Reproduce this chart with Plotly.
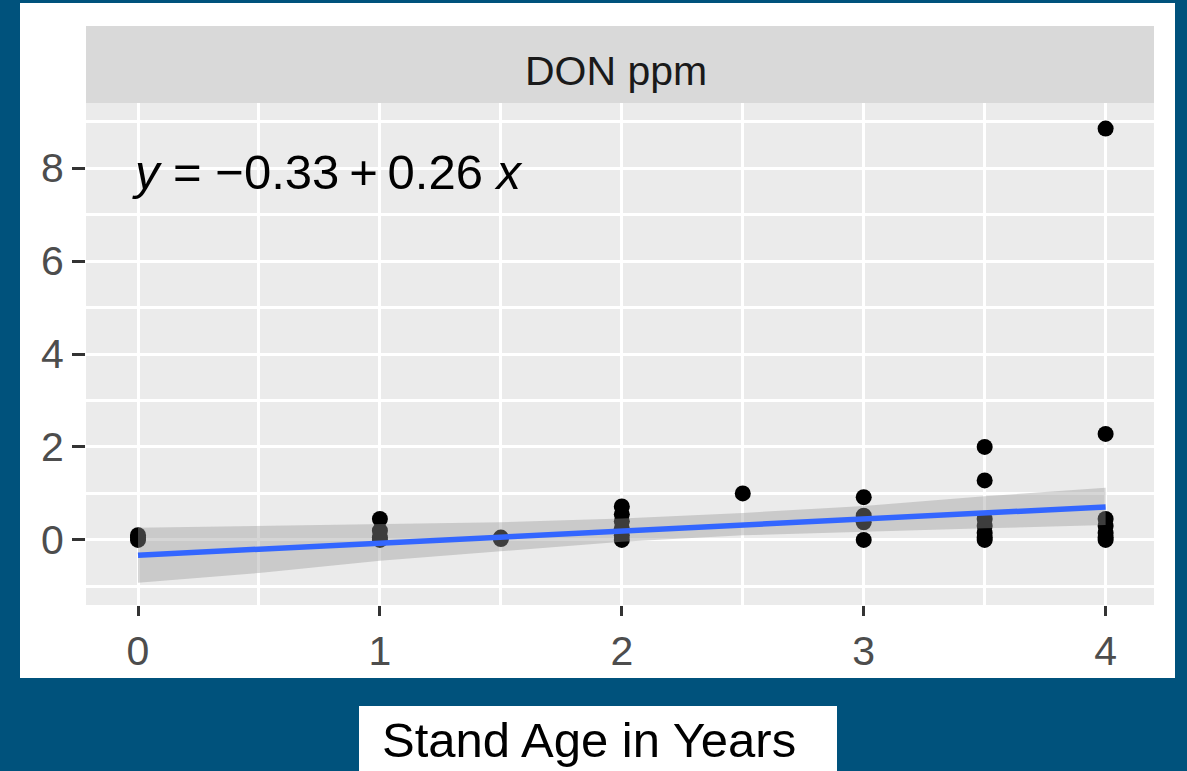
import plotly.graph_objects as go

# ---- data ----
x_groups = [0, 1, 1.5, 2, 2.5, 3, 3.5, 4]
y_groups = [
    [0.0, 0.05, 0.1],
    [0.45, 0.2, 0.05, 0.0],
    [0.02, 0.05],
    [0.72, 0.55, 0.4, 0.25, 0.1, 0.0],
    [1.0],
    [0.92, 0.52, 0.38, 0.0],
    [2.0, 1.28, 0.45, 0.3, 0.15, 0.05, 0.0],
    [8.85, 2.28, 0.45, 0.3, 0.15, 0.05, 0.0],
]
fit_x = [0, 4]
fit_y = [-0.33, 0.71]
band_x = [0, 0.5, 1, 1.5, 2, 2.5, 3, 3.5, 4]
band_upper = [0.26, 0.30, 0.33, 0.38, 0.46, 0.58, 0.73, 0.94, 1.12]
band_lower = [-0.92, -0.71, -0.45, -0.24, -0.04, 0.10, 0.18, 0.25, 0.32]
x_ticks = [0, 1, 2, 3, 4]
y_ticks = [0, 2, 4, 6, 8]
strip_label = "DON ppm"
x_title = "Stand Age in Years"
equation = "<i>y</i> = \u22120.33\u2009+\u20090.26 <i>x</i>"

pts_x, pts_y = [], []
for xv, ys in zip(x_groups, y_groups):
    for yv in ys:
        pts_x.append(xv)
        pts_y.append(yv)

FONT = "Liberation Sans, Arial, sans-serif"
BLUE = "#00527C"
W, H = 1187, 771
L, R, T, B = 86, 1154, 103, 605
pw, ph = R - L, B - T


def px(xp):
    return (xp - L) / pw


def py(yp):
    return (B - yp) / ph


fig = go.Figure()
fig.add_trace(go.Scatter(x=pts_x, y=pts_y, mode="markers",
                         marker=dict(color="black", size=16, line=dict(width=0)),
                         showlegend=False, hoverinfo="skip"))
fig.add_trace(go.Scatter(x=band_x + band_x[::-1], y=band_upper + band_lower[::-1],
                         mode="lines", fill="toself", fillcolor="rgba(153,153,153,0.4)",
                         line=dict(width=0), showlegend=False, hoverinfo="skip"))
fig.add_trace(go.Scatter(x=fit_x, y=fit_y, mode="lines",
                         line=dict(color="#3366FF", width=5.5),
                         showlegend=False, hoverinfo="skip"))

shapes = [
    dict(type="rect", xref="paper", yref="paper", x0=px(20), x1=px(1175), y0=py(678), y1=py(3),
         fillcolor="white", line=dict(width=0), layer="below"),
    dict(type="rect", xref="paper", yref="paper", x0=0, x1=1, y0=0, y1=1,
         fillcolor="#EBEBEB", line=dict(width=0), layer="below"),
    dict(type="rect", xref="paper", yref="paper", x0=0, x1=1, y0=1, y1=py(26),
         fillcolor="#D9D9D9", line=dict(width=0), layer="below"),
    dict(type="rect", xref="paper", yref="paper", x0=px(359), x1=px(837), y0=py(790), y1=py(706),
         fillcolor="white", line=dict(width=0), layer="below"),
]

annotations = [
    dict(text=strip_label, xref="paper", yref="paper", x=px(616), y=py(71), xanchor="center",
         yanchor="middle", showarrow=False, font=dict(family=FONT, size=41, color="#1A1A1A")),
    dict(text=x_title, xref="paper", yref="paper", x=px(589), y=py(740), xanchor="center",
         yanchor="middle", showarrow=False, font=dict(family=FONT, size=49, color="black")),
    dict(text=equation, xref="paper", yref="paper", x=px(130), y=py(172), xanchor="left",
         yanchor="middle", showarrow=False, font=dict(family=FONT, size=49, color="black")),
]

fig.update_layout(
    width=W, height=H,
    margin=dict(l=L, r=W - R, t=T, b=H - B, pad=0),
    paper_bgcolor=BLUE, plot_bgcolor="rgba(0,0,0,0)",
    shapes=shapes, annotations=annotations, showlegend=False,
    font=dict(family=FONT),
)
fig.update_xaxes(range=[-0.215, 4.2], tickvals=x_ticks, ticktext=[str(v) for v in x_ticks],
                 showgrid=True, gridcolor="white", gridwidth=3, zeroline=False,
                 minor=dict(dtick=0.5, tick0=0, showgrid=True, gridcolor="white", gridwidth=2.5),
                 ticks="outside", ticklen=10, tickwidth=2.5, tickcolor="#333333",
                 tickfont=dict(family=FONT, size=41, color="#4D4D4D"),
                 showline=False, fixedrange=True)
fig.update_yaxes(range=[-1.40, 9.40], tickvals=y_ticks, ticktext=[str(v) for v in y_ticks],
                 showgrid=True, gridcolor="white", gridwidth=3, zeroline=False,
                 minor=dict(dtick=1, tick0=0, showgrid=True, gridcolor="white", gridwidth=2.5),
                 ticks="outside", ticklen=13, tickwidth=2.5, tickcolor="#333333",
                 tickfont=dict(family=FONT, size=41, color="#4D4D4D"),
                 showline=False, fixedrange=True)

fig.write_html("out.html")
